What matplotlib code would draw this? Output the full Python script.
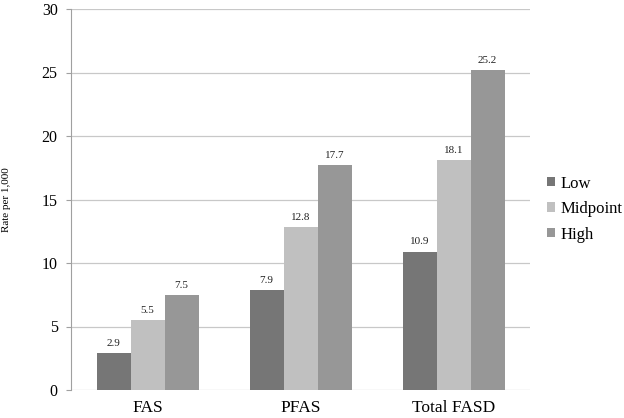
import matplotlib
matplotlib.use("Agg")
import matplotlib.pyplot as plt
import numpy as np

categories = ["FAS", "PFAS", "Total FASD"]
series_names = ["Low", "Midpoint", "High"]
low = [2.9, 7.9, 10.9]
midpoint = [5.5, 12.8, 18.1]
high = [7.5, 17.7, 25.2]
yticks = [0, 5, 10, 15, 20, 25, 30]

colors = ["#767676", "#c0c0c0", "#979797"]

plt.rcParams['font.family'] = ['Liberation Serif', 'DejaVu Serif']

fig = plt.figure(figsize=(6.24, 4.18), dpi=100)
ax = fig.add_axes([71/624, 28/418, (530-71)/624, (390-9)/418])

x = np.arange(len(categories))
w = 2/9
for i, (vals, name, c) in enumerate(zip([low, midpoint, high], series_names, colors)):
    pos = x + (i - 1) * w
    ax.bar(pos, vals, width=w, color=c, label=name, zorder=3)
    for p, v in zip(pos, vals):
        ax.text(p, v + 0.4, f"{v}", ha='center', va='bottom', fontsize=8, color='#222222')

ax.set_xlim(-0.5, 2.5)
ax.set_ylim(0, 30)
ax.set_yticks(yticks)
ax.set_yticklabels([str(t) for t in yticks], fontsize=11.5)
ax.set_xticks(x)
ax.set_xticklabels(categories, fontsize=12.5)
ax.tick_params(axis='x', length=0, pad=7)
ax.tick_params(axis='y', length=3.6, color='#a0a0a0', pad=6)
ax.grid(axis='y', color='#c8c8c8', linewidth=0.9, zorder=0)
for s in ['top', 'right', 'bottom']:
    ax.spines[s].set_visible(False)
ax.spines['left'].set_color('#a0a0a0')

fig.text(7/624, 1 - 199.5/418, "Rate per 1,000", rotation=90, fontsize=8,
         ha='center', va='center')

leg = ax.legend(loc='center left', bbox_to_anchor=(1.022, 0.475), frameon=False,
                borderaxespad=0, fontsize=12, handlelength=0.48, handleheight=0.48,
                handletextpad=0.36, labelspacing=0.57)

fig.savefig("out.png", dpi=100)
